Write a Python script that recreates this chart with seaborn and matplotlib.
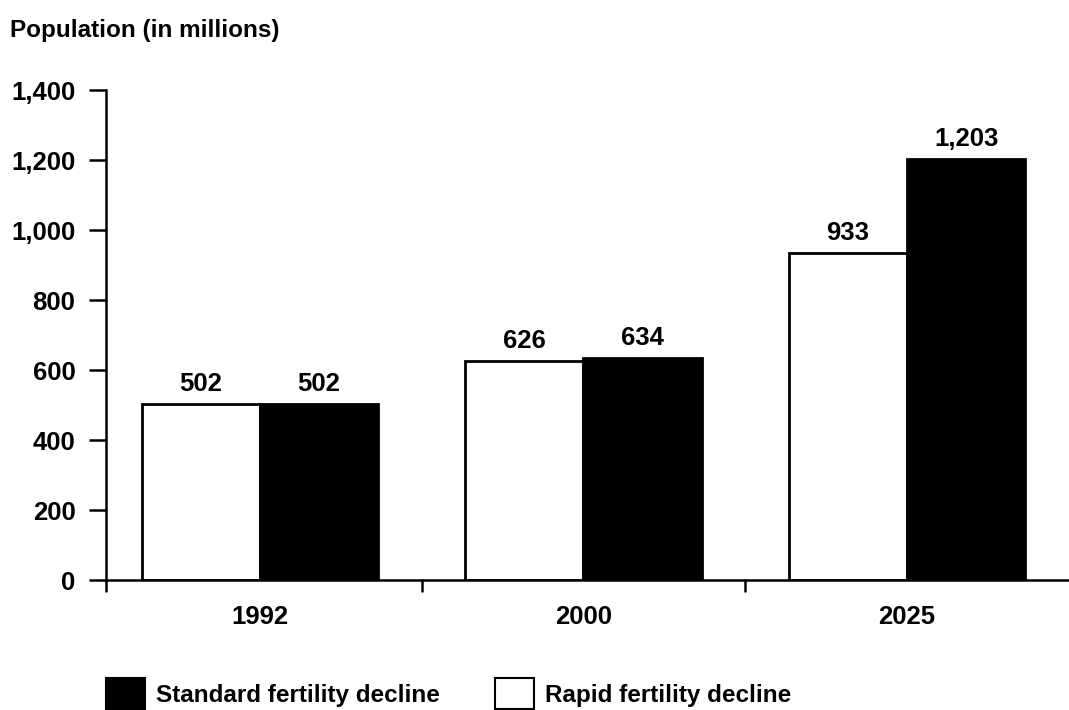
import matplotlib
matplotlib.use("Agg")
import matplotlib.pyplot as plt
from matplotlib.patches import Patch
import seaborn as sns
import pandas as pd

# Population projections (millions)
years = ["1992", "2000", "2025"]
rapid = [502, 626, 933]
standard = [502, 634, 1203]
value_labels_rapid = ["502", "626", "933"]
value_labels_standard = ["502", "634", "1,203"]
y_ticks = [0, 200, 400, 600, 800, 1000, 1200, 1400]
y_tick_labels = ["0", "200", "400", "600", "800", "1,000", "1,200", "1,400"]

df = pd.DataFrame({
    "year": years * 2,
    "population": rapid + standard,
    "scenario": ["Rapid"] * len(years) + ["Standard"] * len(years),
})

sns.set_theme(style="white")
plt.rcParams["font.family"] = ["Liberation Sans", "DejaVu Sans"]
plt.rcParams["font.weight"] = "bold"
plt.rcParams["text.color"] = "black"
plt.rcParams["xtick.color"] = "black"
plt.rcParams["ytick.color"] = "black"

FS = 18.5      # numbers
FS_TXT = 17.5  # words

fig = plt.figure(figsize=(10.69, 7.10), dpi=100)
ax = fig.add_axes([106 / 1069, 1 - 580 / 710, (1069 - 106) / 1069, (580 - 90) / 710])

sns.barplot(
    data=df, x="year", y="population", hue="scenario",
    hue_order=["Rapid", "Standard"], order=years,
    palette={"Rapid": "white", "Standard": "black"},
    edgecolor="black", linewidth=2.0, width=0.73, gap=0,
    legend=False, ax=ax,
)

# Value labels above bars
for cont, labels in zip(ax.containers, [value_labels_rapid, value_labels_standard]):
    ax.bar_label(cont, labels=labels, padding=6, fontsize=FS, fontweight="bold",
                 color="black")

ax.set_ylim(0, 1400)
ax.set_xlim(-0.475, 2.5)
ax.set_yticks(y_ticks)
ax.set_yticklabels(y_tick_labels, fontsize=FS, fontweight="bold")
ax.set_xticks([0, 1, 2])
ax.set_xticklabels(years, fontsize=FS, fontweight="bold")
ax.tick_params(axis="x", bottom=False, length=0, pad=18)
ax.tick_params(axis="y", left=True, direction="out", length=12, width=1.8,
               color="black", pad=10)

# Category separator ticks below the baseline
for xs in [-0.475, 0.5, 1.5]:
    ax.plot([xs, xs], [0, -0.022], transform=ax.get_xaxis_transform(),
            color="black", lw=1.8, clip_on=False)

ax.set_xlabel("")
ax.set_ylabel("")
for side in ["top", "right"]:
    ax.spines[side].set_visible(False)
for side in ["left", "bottom"]:
    ax.spines[side].set_color("black")
    ax.spines[side].set_linewidth(1.8)

fig.text(10 / 1069, 1 - 30 / 710, "Population (in millions)", fontsize=FS_TXT,
         fontweight="bold", va="center", ha="left")

handles = [Patch(facecolor="black", edgecolor="black", lw=1.5),
           Patch(facecolor="white", edgecolor="black", lw=1.5)]
fig.legend(handles, ["Standard fertility decline", "Rapid fertility decline"],
           loc="lower left", bbox_to_anchor=(84 / 1069, -0.03), ncol=2,
           frameon=False, handlelength=1.6, handleheight=1.6,
           handletextpad=0.45, columnspacing=2.3,
           prop={"weight": "bold", "size": FS_TXT})

fig.savefig("out.png", dpi=100, facecolor="white")
